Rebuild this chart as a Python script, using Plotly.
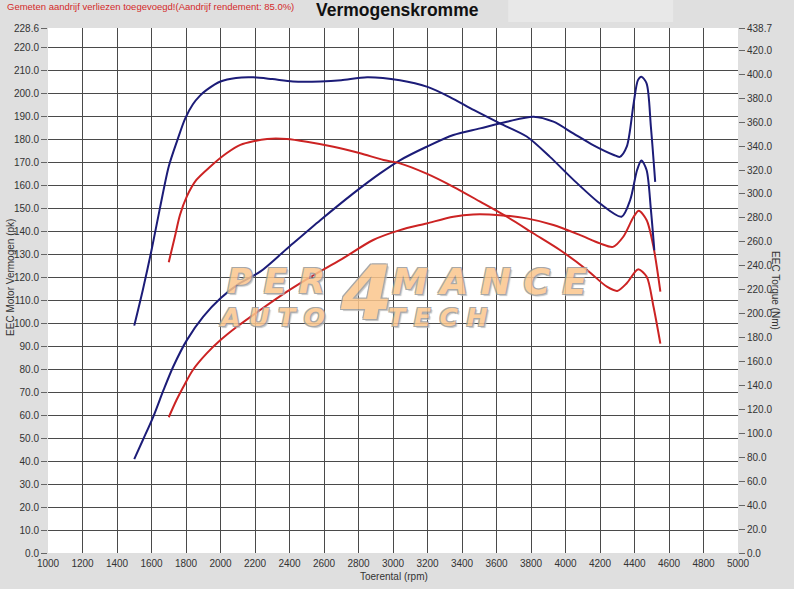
import plotly.graph_objects as go

# rpm axis + measured curves (power in pk on the left axis, torque in Nm on the right axis)
rpm_torque_tuned = [1500, 1550, 1600, 1650, 1700, 1750, 1795, 1840, 1880, 1920, 2000, 2090, 2190,
                    2300, 2420, 2580, 2700, 2850, 3040, 3200, 3330, 3470, 3620, 3775, 3910, 4045,
                    4200, 4325, 4375, 4415, 4440, 4470, 4495, 4515]
torque_tuned = [190, 220, 253, 289, 323, 345, 363, 375, 382, 387, 394, 397, 397.5,
                396, 394, 394, 395, 397.5, 395, 389.5, 381, 370, 359, 348, 331, 312,
                292, 281, 295, 320, 328, 320, 287, 253]

rpm_power_tuned = [1500, 1550, 1610, 1670, 1725, 1805, 1900, 2000, 2110, 2230, 2385, 2580, 2770,
                   2925, 3040, 3195, 3350, 3505, 3660, 3815, 3930, 4045, 4160, 4280, 4315, 4355,
                   4395, 4420, 4440, 4470, 4495, 4520]
power_tuned = [40.9, 49.2, 59.3, 71, 81, 92.7, 102.9, 110.9, 117.4, 122.5, 132.5, 145, 156.6,
               165.3, 171, 176.9, 182, 184.9, 187.8, 190, 187.8, 182.7, 177.6, 173.3, 172.5, 176.9,
               195.8, 205.9, 207.4, 204.5, 185.6, 161.6]

rpm_torque_stock = [1700, 1735, 1765, 1805, 1860, 1940, 2035, 2115, 2270, 2385, 2500, 2655, 2810,
                    2945, 3040, 3195, 3350, 3505, 3660, 3815, 3970, 4125, 4240, 4300, 4355, 4420,
                    4470, 4510, 4550]
torque_stock = [243, 264, 282.4, 298, 311.7, 322.8, 334, 341, 346, 346, 343.7, 339.5, 334,
                328.4, 325.6, 317, 306, 293.6, 281, 267, 253, 236.5, 222.5, 219, 225.4, 237,
                231, 206, 175]

rpm_power_stock = [1700, 1745, 1785, 1840, 1920, 2000, 2095, 2230, 2385, 2540, 2695, 2885, 3040,
                   3195, 3350, 3465, 3620, 3775, 3930, 4085, 4200, 4275, 4335, 4395, 4425, 4470,
                   4510, 4550]
power_stock = [59.1, 66.6, 72.4, 79.7, 86.9, 92.7, 98.5, 105.8, 113.8, 121, 127.6, 136.3, 140.6,
               143.5, 146.4, 147.4, 147.1, 145.7, 142.8, 138.4, 134.8, 133.3, 137.7, 146.4, 149, 145,
               133.3, 113.8]

x_ticks = list(range(1000, 5001, 200))
left_ticks = [v * 10 for v in range(23)] + [228.6]
right_ticks = [v * 20 for v in range(22)] + [438.7]

BLUE = "#1c1c78"
RED = "#cc2323"
LABEL_FONT = dict(family="Liberation Sans, Arial", size=10, color="#333333")

fig = go.Figure()

for x, y, color, axis in [
    (rpm_torque_tuned, torque_tuned, BLUE, "y2"),
    (rpm_power_tuned, power_tuned, BLUE, "y"),
    (rpm_torque_stock, torque_stock, RED, "y2"),
    (rpm_power_stock, power_stock, RED, "y"),
]:
    fig.add_trace(
        go.Scatter(
            x=x,
            y=y,
            yaxis=axis,
            mode="lines",
            line=dict(color=color, width=2, shape="spline", smoothing=0.8),
            showlegend=False,
            hoverinfo="skip",
        )
    )

fig.update_layout(
    width=794,
    height=589,
    margin=dict(l=48, r=56, t=28, b=36),
    paper_bgcolor="#dfdfdf",
    plot_bgcolor="white",
    font=LABEL_FONT,
    xaxis=dict(
        range=[1000, 5000],
        tickvals=x_ticks,
        ticktext=[str(v) for v in x_ticks],
        showgrid=True,
        gridcolor="#4a4a4a",
        gridwidth=1,
        zeroline=False,
        showline=False,
        ticks="",
        ticklabelstandoff=3,
        tickfont=LABEL_FONT,
    ),
    yaxis=dict(
        range=[0, 228.6],
        tickvals=left_ticks,
        ticktext=[f"{v:.1f}" for v in left_ticks],
        showgrid=True,
        gridcolor="#4a4a4a",
        gridwidth=1,
        zeroline=False,
        showline=False,
        ticks="outside",
        ticklen=6,
        tickcolor="#666666",
        tickfont=LABEL_FONT,
    ),
    yaxis2=dict(
        range=[0, 438.7],
        overlaying="y",
        side="right",
        tickvals=right_ticks,
        ticktext=[f"{v:.1f}" for v in right_ticks],
        showgrid=False,
        zeroline=False,
        showline=False,
        ticks="outside",
        ticklen=6,
        tickcolor="#666666",
        tickfont=LABEL_FONT,
    ),
)

# lighter box in the header
fig.add_shape(type="rect", xref="paper", yref="paper", x0=0.667, x1=0.906, y0=1.0114, y1=1.0533,
              fillcolor="#e8e8e8", line=dict(width=0), layer="below")

# texts
fig.add_annotation(text="Gemeten aandrijf verliezen toegevoegd!(Aandrijf rendement: 85.0%)",
                   xref="paper", yref="paper", x=-0.0623, y=1.04, xanchor="left", yanchor="middle",
                   showarrow=False, font=dict(family="Liberation Sans, Arial", size=9.5, color="#d42a2a"))
fig.add_annotation(text="<b>Vermogenskromme</b>", xref="paper", yref="paper", x=0.506, y=1.034,
                   xanchor="center", yanchor="middle", showarrow=False,
                   font=dict(family="Liberation Sans, Arial", size=17.5, color="#111111"))
fig.add_annotation(text="Toerental (rpm)", xref="paper", yref="paper", x=0.502, y=-0.0457,
                   xanchor="center", yanchor="middle", showarrow=False, font=LABEL_FONT)
fig.add_annotation(text="EEC Motor Vermogen (pk)", xref="paper", yref="paper", x=-0.0536, y=0.524,
                   xanchor="center", yanchor="middle", textangle=-90, showarrow=False, font=LABEL_FONT)
fig.add_annotation(text="EEC Torque (Nm)", xref="paper", yref="paper", x=1.055, y=0.499,
                   xanchor="center", yanchor="middle", textangle=90, showarrow=False, font=LABEL_FONT)

# watermark logo
logo_shadow = "1px 1px 0 #999, -1px -1px 0 #999, 1px -1px 0 #999, -1px 1px 0 #999, 2px 2px 1px #bbb"
for txt, x, y, size in [
    ("P E R", 0.33, 0.518, 34),
    ("M A N C E", 0.64, 0.518, 36),
    ("A U T O", 0.325, 0.448, 25),
    ("T E C H", 0.565, 0.448, 25),
    ("4", 0.462, 0.495, 74),
]:
    fig.add_annotation(text=txt, xref="paper", yref="paper", x=x, y=y, xanchor="center",
                       yanchor="middle", showarrow=False, opacity=0.85,
                       font=dict(family="DejaVu Sans", size=size, color="#fbc68c",
                                 weight="bold", style="italic", shadow=logo_shadow))

fig.write_html("out.html", config={"displayModeBar": False},
               post_script="document.body.style.margin = '0';")
